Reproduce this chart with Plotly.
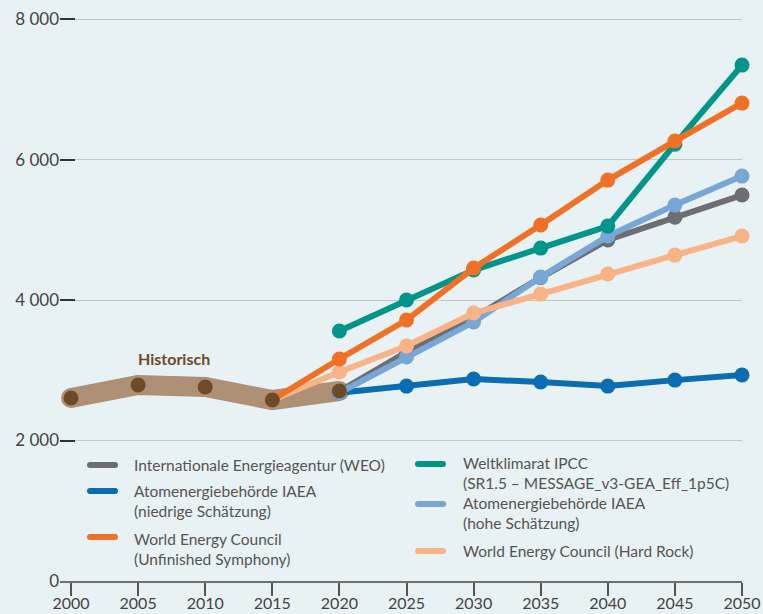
import plotly.graph_objects as go

years_hist = [2000, 2005, 2010, 2015, 2020]
hist = [2605, 2790, 2762, 2577, 2705]

years_proj = [2020, 2025, 2030, 2035, 2040, 2045, 2050]
years_wec = [2015, 2020, 2025, 2030, 2035, 2040, 2045, 2050]

weo = [2700, 3260, 3750, 4320, 4855, 5180, 5495]
iaea_low = [2680, 2775, 2875, 2833, 2775, 2860, 2932]
iaea_high = [2680, 3190, 3687, 4327, 4911, 5352, 5765]
ipcc = [3559, 4000, 4427, 4740, 5053, 6220, 7345]
wec_unf = [2577, 3160, 3715, 4455, 5068, 5708, 6263, 6804]
wec_hard = [2577, 2975, 3345, 3815, 4085, 4370, 4640, 4911]

names = {
    "weo": ["Internationale Energieagentur (WEO)"],
    "iaea_low": ["Atomenergiebehörde IAEA", "(niedrige Schätzung)"],
    "wec_unf": ["World Energy Council", "(Unfinished Symphony)"],
    "ipcc": ["Weltklimarat IPCC", "(SR1.5 – MESSAGE_v3-GEA_Eff_1p5C)"],
    "iaea_high": ["Atomenergiebehörde IAEA", "(hohe Schätzung)"],
    "wec_hard": ["World Energy Council (Hard Rock)"],
}
hist_label = "Historisch"

x_ticks = list(range(2000, 2051, 5))
y_ticks = [0, 2000, 4000, 6000, 8000]
y_ticktext = ["0", "2 000", "4 000", "6 000", "8 000"]

colors = {
    "weo": "#6d6e71",
    "iaea_low": "#0a6cb3",
    "iaea_high": "#78a6d5",
    "ipcc": "#00958a",
    "wec_hard": "#f9b386",
    "wec_unf": "#f07125",
}
band_color = "#ad9076"
hist_marker = "#6e4a28"
bg = "#e8f1f3"
text_color = "#555555"
font_family = "Lato"

# body margin is removed in the page (post_script), so the figure fills
# the 763x614 window exactly
W, H = 763, 614
ML, MR, MT, MB = 60, 21, 17, 33
PW, PH = W - ML - MR, H - MT - MB
Y_MAX = 8030  # a little headroom so the 8 000 gridline is not clipped


def px_x(x):
    # x in window pixels -> paper fraction
    return (x - ML) / PW


def px_y(y):
    return (H - MB - y) / PH


fig = go.Figure()

# historical band
fig.add_trace(go.Scatter(x=years_hist, y=hist, mode="lines+markers",
                         line=dict(color=band_color, width=20),
                         marker=dict(color=band_color, size=20),
                         showlegend=False, hoverinfo="skip", cliponaxis=False))

series = [
    ("weo", years_proj, weo),
    ("iaea_low", years_proj, iaea_low),
    ("iaea_high", years_proj, iaea_high),
    ("ipcc", years_proj, ipcc),
    ("wec_hard", years_wec, wec_hard),
    ("wec_unf", years_wec, wec_unf),
]
for key, xs, ys in series:
    fig.add_trace(go.Scatter(x=xs, y=ys, mode="lines+markers",
                             line=dict(color=colors[key], width=6),
                             marker=dict(color=colors[key], size=15),
                             showlegend=False, cliponaxis=False))

fig.add_trace(go.Scatter(x=years_hist, y=hist, mode="markers",
                         marker=dict(color=hist_marker, size=15),
                         showlegend=False, cliponaxis=False))

fig.add_annotation(x=2007.7, y=3174, text="<b>" + hist_label + "</b>",
                   showarrow=False, font=dict(color=hist_marker, size=16,
                                              family=font_family))

# manual legend (two columns)
legend_layout = [
    # key, symbol x0, text x, symbol y, first text line y
    ("weo", 87, 132, 465, 465),
    ("iaea_low", 87, 132, 491, 491),
    ("wec_unf", 87, 132, 537, 539),
    ("ipcc", 415, 461, 464, 463),
    ("iaea_high", 415, 461, 504, 503),
    ("wec_hard", 415, 461, 551, 551),
]
leg_size = 15.5
leading = leg_size * 1.3
for key, sx, tx, sy, ty in legend_layout:
    fig.add_shape(type="line", xref="paper", yref="paper",
                  x0=px_x(sx + 3), x1=px_x(sx + 28), y0=px_y(sy), y1=px_y(sy),
                  line=dict(color=colors[key], width=6))
    for end in (sx + 3, sx + 28):
        fig.add_shape(type="circle", xref="paper", yref="paper",
                      x0=px_x(end - 3), x1=px_x(end + 3),
                      y0=px_y(sy + 3), y1=px_y(sy - 3),
                      fillcolor=colors[key], line=dict(width=0))
    n = len(names[key])
    fig.add_annotation(xref="paper", yref="paper", x=px_x(tx),
                       y=px_y(ty + (n - 1) * leading / 2),
                       text="<br>".join(names[key]), align="left",
                       xanchor="left", yanchor="middle", showarrow=False,
                       font=dict(family=font_family, size=leg_size,
                                 color=text_color))

fig.update_layout(
    width=W, height=H,
    margin=dict(l=ML, r=MR, t=MT, b=MB),
    paper_bgcolor=bg, plot_bgcolor=bg,
    font=dict(family=font_family, size=17, color="#444444"),
    showlegend=False,
    hovermode=False,
    xaxis=dict(range=[1999.18, 2050], tickvals=x_ticks, ticks="outside",
               ticklen=13, tickcolor="#555555", tickwidth=1.5,
               showline=True, linecolor="#707070", linewidth=2,
               showgrid=False, zeroline=False, automargin=False,
               ticklabelstandoff=-6,
               tickfont=dict(size=16, color="#444444")),
    yaxis=dict(range=[0, Y_MAX], tickvals=y_ticks, ticktext=y_ticktext,
               ticks="inside", ticklen=15, tickcolor="#333333", tickwidth=1.5,
               showgrid=True, gridcolor="#c4c6c8", gridwidth=1,
               showline=False, zeroline=False, automargin=False,
               tickfont=dict(size=17, color="#444444")),
)

fig.write_html("out.html",
               config={"displayModeBar": False},
               post_script="document.body.style.margin='0';"
                           "document.body.style.overflow='hidden';")
